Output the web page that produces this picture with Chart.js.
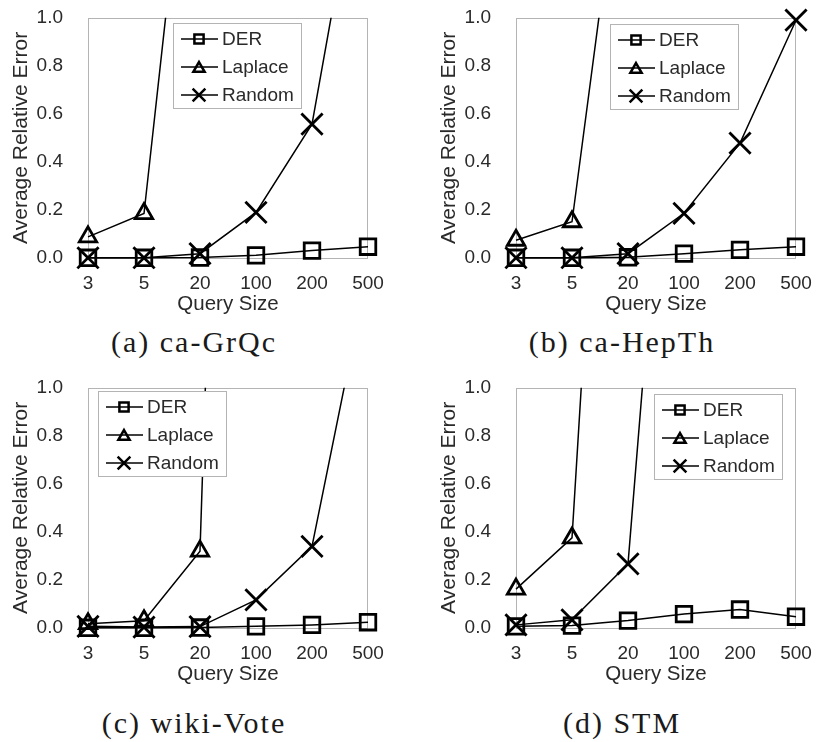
<!DOCTYPE html>
<html>
<head>
<meta charset="utf-8">
<script src="https://cdn.jsdelivr.net/npm/chart.js@4/dist/chart.umd.min.js"></script>
<style>
  body { margin: 0; background: #fff; }
  #page { position: relative; width: 817px; height: 742px; }
  .panel { position: absolute; height: 320px; }
  .caption { position: absolute; width: 388px; text-align: center;
             font-family: "Liberation Serif", "Times New Roman", serif;
             font-size: 30px; line-height: 30px; letter-spacing: 2px; color: #1a1a1a; }
</style>
</head>
<body>
<div id="page">
  <div class="panel" style="left:0;top:0;width:408px"><canvas id="chartA"></canvas></div>
  <div class="panel" style="left:428px;top:0;width:389px"><canvas id="chartB"></canvas></div>
  <div class="panel" style="left:0;top:370px;width:408px"><canvas id="chartC"></canvas></div>
  <div class="panel" style="left:428px;top:370px;width:389px"><canvas id="chartD"></canvas></div>
  <div class="caption" style="left:0;top:327px">(a) ca-GrQc</div>
  <div class="caption" style="left:428px;top:327px">(b) ca-HepTh</div>
  <div class="caption" style="left:0;top:708px">(c) wiki-Vote</div>
  <div class="caption" style="left:428px;top:708px">(d) STM</div>
</div>
<script>
var querySizes = ['3', '5', '20', '100', '200', '500'];
var seriesNames = ['DER', 'Laplace', 'Random'];
var yTicks = [0, 0.2, 0.4, 0.6, 0.8, 1.0];

// (a) ca-GrQc
var derA     = [0.001, 0.001, 0.002, 0.011, 0.031, 0.047];
var laplaceA = [0.088, 0.185, 2.3, null, null, null];
var randomA  = [0.001, 0.001, 0.018, 0.19, 0.557, 1.86];

// (b) ca-HepTh
var derB     = [0.001, 0.001, 0.003, 0.018, 0.034, 0.047];
var laplaceB = [0.074, 0.151, 1.92, null, null, null];
var randomB  = [0.001, 0.001, 0.018, 0.186, 0.478, 0.99];

// (c) wiki-Vote
var derC     = [0.001, 0.001, 0.002, 0.007, 0.013, 0.024];
var laplaceC = [0.018, 0.030, 0.32, 7.45, null, null];
var randomC  = [0.007, 0.004, 0.006, 0.117, 0.34, 1.49];

// (d) STM
var derD     = [0.007, 0.010, 0.031, 0.058, 0.077, 0.047];
var laplaceD = [0.162, 0.375, 4.17, null, null, null];
var randomD  = [0.013, 0.034, 0.267, 3.13, null, null];

Chart.defaults.font.family = '"Liberation Sans", Arial, sans-serif';
Chart.defaults.font.size = 19;
Chart.defaults.color = '#2a2a2a';

var markerStyles = ['rect', 'triangle', 'crossRot'];
var markerRadius = [11, 10, 15];
var legendRadius = [6.5, 6.5, 9];

function drawMarker(ctx, style, x, y, r) {
    ctx.beginPath();
    if (style === 'rect') {
        var s = r * Math.SQRT1_2;
        ctx.rect(x - s, y - s, 2 * s, 2 * s);
    } else if (style === 'triangle') {
        ctx.moveTo(x, y - r);
        ctx.lineTo(x + r * Math.sin(Math.PI * 2 / 3), y - r * Math.cos(Math.PI * 2 / 3));
        ctx.lineTo(x + r * Math.sin(Math.PI * 4 / 3), y - r * Math.cos(Math.PI * 4 / 3));
        ctx.closePath();
    } else {
        var d = r * Math.SQRT1_2;
        ctx.moveTo(x - d, y - d); ctx.lineTo(x + d, y + d);
        ctx.moveTo(x - d, y + d); ctx.lineTo(x + d, y - d);
    }
    ctx.stroke();
}

var frameBox = {
    id: 'frameBox',
    beforeDatasetsDraw: function (chart) {
        var a = chart.chartArea, ctx = chart.ctx;
        ctx.save();
        ctx.strokeStyle = '#b4b4b4';
        ctx.lineWidth = 1;
        ctx.strokeRect(Math.round(a.left) + 0.5, Math.round(a.top) + 0.5,
            Math.round(a.right - a.left) - 1, Math.round(a.bottom - a.top));
        ctx.restore();
    }
};

var insideLegend = {
    id: 'insideLegend',
    afterDatasetsDraw: function (chart, args, opts) {
        var ctx = chart.ctx, x = opts.x, y = opts.y, w = 128, h = 85;
        ctx.save();
        ctx.fillStyle = '#fff';
        ctx.fillRect(x, y, w, h);
        ctx.strokeStyle = '#b4b4b4';
        ctx.lineWidth = 1;
        ctx.strokeRect(x + 0.5, y + 0.5, w, h);
        chart.data.datasets.forEach(function (ds, i) {
            var cy = y + 16 + i * 28;
            ctx.strokeStyle = '#000';
            ctx.lineWidth = 1.5;
            ctx.beginPath();
            ctx.moveTo(x + 8, cy); ctx.lineTo(x + 45, cy);
            ctx.stroke();
            ctx.lineWidth = 2.5;
            drawMarker(ctx, markerStyles[i], x + 26, cy + (i === 1 ? 1.5 : 0), legendRadius[i]);
            ctx.fillStyle = '#2a2a2a';
            ctx.font = '19px "Liberation Sans", Arial, sans-serif';
            ctx.textBaseline = 'middle';
            ctx.fillText(ds.label, x + 49, cy + 1);
        });
        ctx.restore();
    }
};

function makeDataset(i, values) {
    var overflow = values.some(function (v) { return v !== null && v > 1; });
    return {
        label: seriesNames[i],
        data: values,
        borderColor: '#000',
        borderWidth: 1.5,
        pointStyle: markerStyles[i],
        pointRadius: markerRadius[i],
        pointBorderWidth: 2.8,
        pointBorderColor: '#000',
        pointBackgroundColor: 'rgba(0,0,0,0)',
        tension: 0,
        clip: { left: 20, right: 20, bottom: 20, top: overflow ? 0 : 14 }
    };
}

function gerar(id, der, laplace, random, rightPad, legendPos) {
    new Chart(document.getElementById(id), {
        type: 'line',
        data: {
            labels: querySizes,
            datasets: [makeDataset(0, der), makeDataset(1, laplace), makeDataset(2, random)]
        },
        options: {
            responsive: true,
            maintainAspectRatio: false,
            animation: false,
            layout: { padding: { left: 0, top: 11, right: rightPad, bottom: 0 } },
            plugins: {
                legend: { display: false },
                tooltip: { enabled: false },
                insideLegend: legendPos
            },
            scales: {
                x: {
                    type: 'category',
                    offset: false,
                    grid: { display: false, drawTicks: false },
                    border: { display: false },
                    ticks: { padding: 14, maxRotation: 0, autoSkip: false },
                    title: { display: true, text: 'Query Size', font: { size: 20.5 }, padding: { top: 0, bottom: 3 } },
                    afterFit: function (s) { s.height = 62; s.paddingLeft = 0; s.paddingRight = 0; }
                },
                y: {
                    min: 0,
                    max: 1,
                    grid: { display: false, drawTicks: false },
                    border: { display: false },
                    afterBuildTicks: function (s) { s.ticks = yTicks.map(function (v) { return { value: v }; }); },
                    ticks: { padding: 25, callback: function (v) { return Number(v).toFixed(1); } },
                    title: { display: true, text: 'Average Relative Error', font: { size: 21 }, padding: { top: 9, bottom: 0 } },
                    afterFit: function (s) { s.width = 88; s.paddingTop = 0; s.paddingBottom = 0; }
                }
            }
        },
        plugins: [frameBox, insideLegend]
    });
}

gerar('chartA', derA, laplaceA, randomA, 40, { x: 173, y: 23 });
gerar('chartB', derB, laplaceB, randomB, 21, { x: 182, y: 24 });
gerar('chartC', derC, laplaceC, randomC, 40, { x: 98, y: 21 });
gerar('chartD', derD, laplaceD, randomD, 21, { x: 226, y: 24 });
</script>
</body>
</html>
